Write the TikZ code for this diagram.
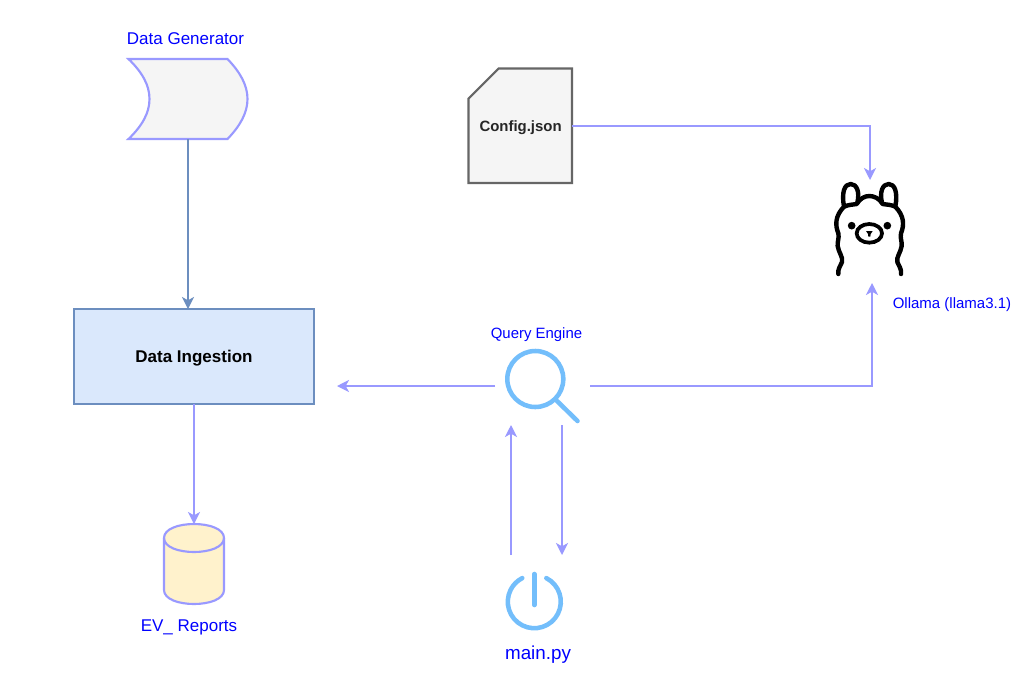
\documentclass[tikz,border=0pt]{standalone}
\usepackage{fontspec}
\setmainfont{Liberation Sans}
\usetikzlibrary{arrows.meta}
\definecolor{arrowc}{HTML}{9999FF}
\definecolor{bluetxt}{HTML}{0000FF}
\definecolor{iconc}{HTML}{73BEFB}
\definecolor{ingf}{HTML}{DAE8FC}
\definecolor{ings}{HTML}{6C8EBF}
\definecolor{cylf}{HTML}{FFF2CC}
\definecolor{grayf}{HTML}{F5F5F5}
\definecolor{grays}{HTML}{666666}
\tikzset{
  conn/.style={draw=arrowc,line width=1.4pt,-{Stealth[length=9pt,width=9pt,inset=2.5pt]}},
  connb/.style={conn,draw=ings},
  shapeline/.style={draw=arrowc,line width=1.6pt},
  bluelabel/.style={inner sep=0pt,text=bluetxt},
  icon/.style={draw=iconc,line width=3.4pt,line cap=round},
  llamaline/.style={draw=black,line width=3.3pt,line cap=round,line join=round}
}
\begin{document}
\begin{tikzpicture}[x=0.75pt,y=-0.75pt]
\fill[white] (0,0) rectangle (1028,690);
\useasboundingbox (0,0) rectangle (1028,690);

% Data generator shape
\path[shapeline,fill=grayf] (128.5,59) -- (227.5,59)
  .. controls (240,72) and (247.5,85) .. (247.5,99)
  .. controls (247.5,113) and (240,126) .. (227.5,139)
  -- (128.5,139)
  .. controls (142,126) and (149.5,113) .. (149.5,99)
  .. controls (149.5,85) and (142,72) .. (128.5,59) -- cycle;
\node[inner sep=0pt,outer sep=0pt,minimum width=88.5pt,minimum height=60pt] (gen) at (188,99) {};
\node[bluelabel,font=\fontsize{12.75pt}{15pt}\selectfont] (genl) at (185.5,38.5) {Data Generator};

% Config
\path[draw=grays,fill=grayf,line width=1.6pt] (468.5,98.5) -- (498.5,68.5) -- (572,68.5) -- (572,183) -- (468.5,183) -- cycle;
\node[inner sep=0pt,outer sep=0pt,minimum width=77.6pt,minimum height=85.5pt,text=black!85] (cfg) at (520.3,126) {};
\node[inner sep=0pt,font=\bfseries\fontsize{11.2pt}{14pt}\selectfont,text=black!85] (cfgl) at (520.6,128) {Config.json};

% Data ingestion
\node[draw=ings,fill=ingf,line width=1.5pt,inner sep=0pt,outer sep=0pt,minimum width=180pt,minimum height=71.25pt] (ing) at (194,356.5) {};
\node[inner sep=0pt,font=\bfseries\fontsize{12.75pt}{15pt}\selectfont] (ingl) at (194,358) {Data Ingestion};

% Cylinder
\path[shapeline,fill=cylf] (164,538) -- (164,590)
  .. controls (164,608.67) and (224,608.67) .. (224,590) -- (224,538)
  .. controls (224,519.33) and (164,519.33) .. (164,538) -- cycle;
\path[shapeline] (164,538) .. controls (164,556.67) and (224,556.67) .. (224,538);
\node[inner sep=0pt,outer sep=0pt,minimum width=45pt,minimum height=60pt] (cyl) at (194,564) {};
\node[bluelabel,font=\fontsize{12.75pt}{15pt}\selectfont] (cyll) at (189,627) {EV\_ Reports};

% Magnifier
\begin{scope}[shift={(535.3,379)},y=0.75pt]
  \path[icon] (0,0) circle[radius=28];
\end{scope}
\path[icon] (556,400) -- (577.5,421);
\node[inner sep=0pt,outer sep=0pt,minimum width=71.25pt,minimum height=58.5pt] (q) at (542.5,386) {};
\node[bluelabel,font=\fontsize{11.2pt}{14pt}\selectfont] (ql) at (536.5,334.5) {Query Engine};

% Power
\begin{scope}[shift={(534.3,601.7)},y=0.75pt]
  \path[icon] (63:26.5) arc[start angle=63,end angle=-243,radius=26.5];
\end{scope}
\path[icon] (534.3,574) -- (534.3,605);
\node[inner sep=0pt,outer sep=0pt,minimum width=38.25pt,minimum height=57pt] (main) at (536.5,593) {};
\node[bluelabel,font=\fontsize{14.1pt}{17pt}\selectfont] (mainl) at (538,654.5) {main.py};

% Llama
\begin{scope}[shift={(820,170)},x=0.25pt,y=-0.25pt]
  \path[llamaline] (55,312) .. controls (53,298) and (60,290) .. (66,276)
    .. controls (70,262) and (56,248) .. (53,228)
    .. controls (52,212) and (58,205) .. (55,190)
    .. controls (45,165) and (45,138) .. (72,110)
    .. controls (64,66) and (74,42) .. (92,42)
    .. controls (110,42) and (120,66) .. (112,98);
  \path[llamaline] (72,110) .. controls (85,104) and (98,104) .. (110,102)
    .. controls (120,85) and (135,78) .. (148,78)
    .. controls (162,78) and (178,85) .. (188,102)
    .. controls (200,104) and (214,104) .. (226,110);
  \path[llamaline] (186,98) .. controls (178,66) and (188,42) .. (206,42)
    .. controls (224,42) and (234,66) .. (226,110)
    .. controls (253,138) and (253,165) .. (243,190)
    .. controls (240,205) and (246,212) .. (245,228)
    .. controls (242,248) and (228,262) .. (232,276)
    .. controls (238,290) and (245,298) .. (243,312);
  \path[draw=black,line width=2.8pt] (148,190) ellipse[x radius=38,y radius=28];
  \fill[black] (95,167) circle[radius=11.5];
  \fill[black] (202,167) circle[radius=11.5];
  \fill[black] (138,183) -- (158,183) -- (152,192) -- (151,200) -- (145,200) -- (144,192) -- cycle;
\end{scope}
\node[inner sep=0pt,outer sep=0pt,minimum width=60pt,minimum height=71.25pt] (llama) at (870,227.5) {};
\node[bluelabel,font=\fontsize{11.25pt}{14pt}\selectfont] (llamal) at (952,304.5) {Ollama (llama3.1)};

% Free connector ends
\coordinate (ingr) at (337,386);
\coordinate (llamab) at (872,283);

% Connectors
\draw[connb] (gen.south) -- (gen.south |- ing.north);
\draw[conn] (ing.south) -- (cyl.north);
\draw[conn] (cfg.east) -| (llama.north);
\draw[conn] (q.west) -- (ingr);
\draw[conn] (q.east) -| (llamab);
\draw[conn] (main.north west) -- (main.north west |- q.south);
\draw[conn] (main.north east |- q.south) -- (main.north east);
\end{tikzpicture}
\end{document}
